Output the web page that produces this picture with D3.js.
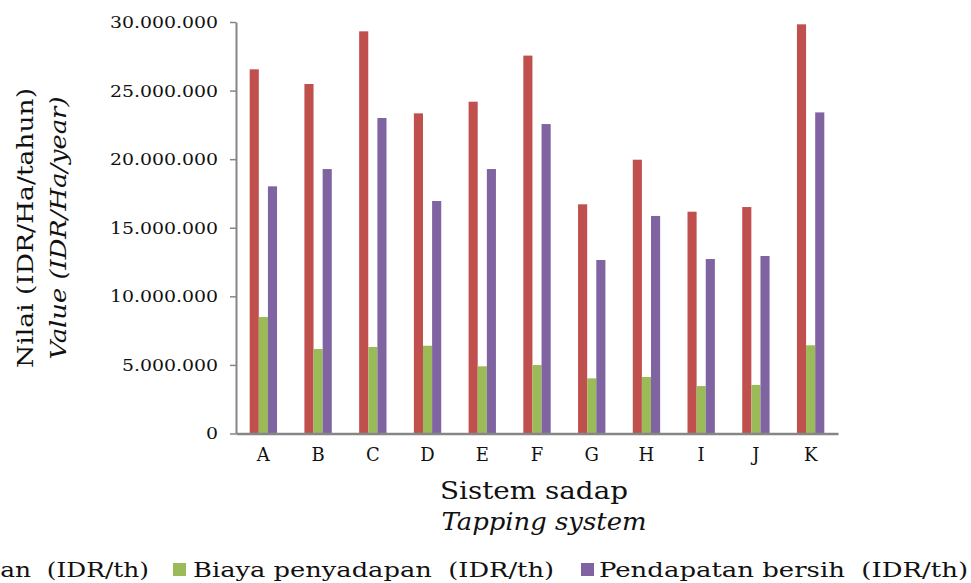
<!DOCTYPE html>
<html>
<head>
<meta charset="utf-8">
<script src="https://cdn.jsdelivr.net/npm/d3@7"></script>
<style>
  body { margin: 0; background: #fff; }
  svg { display: block; font-family: "DejaVu Serif", serif; }
  text { white-space: pre; }
</style>
</head>
<body>
<svg id="chart" width="971" height="583"></svg>
<script>
// tapping systems
var categories = ["A", "B", "C", "D", "E", "F", "G", "H", "I", "J", "K"];

var seriesNames = ["Penerimaan  (IDR/th)", "Biaya penyadapan  (IDR/th)", "Pendapatan bersih  (IDR/th)"];
var seriesColors = ["#C0504D", "#9BBB59", "#8064A2"];

// values (IDR/Ha/year)
var penerimaan = [26550000, 25480000, 29320000, 23340000, 24190000, 27550000, 16710000, 19960000, 16170000, 16510000, 29830000];
var biaya      = [8490000, 6160000, 6310000, 6400000, 4900000, 4990000, 4020000, 4120000, 3460000, 3540000, 6430000];
var bersih     = [18020000, 19280000, 23000000, 16950000, 19280000, 22560000, 12650000, 15860000, 12720000, 12940000, 23410000];

var yTicks = [0, 5000000, 10000000, 15000000, 20000000, 25000000, 30000000];

var svg = d3.select("#chart");
var plotLeft = 236, plotRight = 838, plotTop = 22, plotBottom = 433.5;
var axisColor = "#868686";
var ink = "#111";

// the original font is wider than DejaVu Serif, so stretch text a bit
function stretch(sel, factor) {
  sel.each(function() {
    var w = this.getComputedTextLength();
    d3.select(this).attr("textLength", w * factor).attr("lengthAdjust", "spacingAndGlyphs");
  });
}

var x0 = d3.scaleBand().domain(categories).range([plotLeft, plotRight])
  .paddingInner(0.5).paddingOuter(0.25);
var x1 = d3.scaleBand().domain([0, 1, 2]).range([0, x0.bandwidth()]);
var y = d3.scaleLinear().domain([0, 30000000]).range([plotBottom, plotTop]);

var fmt = function(v) {
  return d3.format(",")(v).replace(/,/g, ".");
};

var rows = categories.map(function(c, i) {
  return { cat: c, vals: [penerimaan[i], biaya[i], bersih[i]] };
});

// bars
svg.append("g").selectAll("g")
  .data(rows)
  .enter().append("g")
  .attr("transform", function(d) { return "translate(" + x0(d.cat) + ",0)"; })
  .selectAll("rect")
  .data(function(d) { return d.vals; })
  .enter().append("rect")
  .attr("x", function(d, i) { return x1(i); })
  .attr("width", x1.bandwidth())
  .attr("y", function(d) { return y(d); })
  .attr("height", function(d) { return plotBottom - y(d); })
  .attr("fill", function(d, i) { return seriesColors[i]; });

// y axis
var yAxis = svg.append("g")
  .attr("transform", "translate(" + plotLeft + ",0)")
  .call(d3.axisLeft(y).tickValues(yTicks).tickFormat(fmt).tickSize(6).tickPadding(12).tickSizeOuter(0));
yAxis.select(".domain").attr("stroke", axisColor).attr("stroke-width", 2);
yAxis.selectAll(".tick line").attr("stroke", axisColor).attr("stroke-width", 1.5);
yAxis.selectAll(".tick text")
  .attr("font-family", "DejaVu Serif")
  .attr("font-size", 17)
  .attr("fill", ink)
  .call(stretch, 1.11);

// x axis
var xAxis = svg.append("g")
  .attr("transform", "translate(0," + plotBottom + ")")
  .call(d3.axisBottom(x0).tickSize(0).tickPadding(15).tickSizeOuter(0));
xAxis.select(".domain").attr("stroke", axisColor).attr("stroke-width", 2.5);
xAxis.selectAll(".tick text")
  .attr("font-family", "DejaVu Serif")
  .attr("font-size", 18)
  .attr("fill", ink);

// axis titles
var yt = svg.append("g").attr("transform", "translate(0,228) rotate(-90)");
yt.append("text").attr("x", 0).attr("y", 33).attr("text-anchor", "middle")
  .attr("font-size", 23).attr("fill", ink)
  .attr("textLength", 280).attr("lengthAdjust", "spacingAndGlyphs")
  .text("Nilai (IDR/Ha/tahun)");
yt.append("text").attr("x", 0).attr("y", 66).attr("text-anchor", "middle")
  .attr("font-size", 23).attr("font-style", "italic").attr("fill", ink)
  .attr("textLength", 263).attr("lengthAdjust", "spacingAndGlyphs")
  .text("Value (IDR/Ha/year)");

svg.append("text").attr("x", 534).attr("y", 499).attr("text-anchor", "middle")
  .attr("font-size", 24).attr("fill", ink)
  .attr("textLength", 188).attr("lengthAdjust", "spacingAndGlyphs")
  .text("Sistem sadap");
svg.append("text").attr("x", 544).attr("y", 530).attr("text-anchor", "middle")
  .attr("font-size", 24).attr("font-style", "italic").attr("fill", ink)
  .attr("textLength", 205).attr("lengthAdjust", "spacingAndGlyphs")
  .text("Tapping system");

// legend (runs off the left edge like the original)
var legendItems = [
  { name: seriesNames[0], color: seriesColors[0], box: -140, tx: 149, anchor: "end", len: 268 },
  { name: seriesNames[1], color: seriesColors[1], box: 173, tx: 193, anchor: "start", len: 361 },
  { name: seriesNames[2], color: seriesColors[2], box: 581, tx: 599, anchor: "start", len: 369 }
];
var lg = svg.append("g");
lg.selectAll("rect").data(legendItems).enter().append("rect")
  .attr("x", function(d) { return d.box; }).attr("y", 563)
  .attr("width", 13).attr("height", 13)
  .attr("fill", function(d) { return d.color; });
lg.selectAll("text").data(legendItems).enter().append("text")
  .attr("x", function(d) { return d.tx; }).attr("y", 577)
  .attr("text-anchor", function(d) { return d.anchor; })
  .attr("font-size", 21).attr("fill", ink)
  .attr("textLength", function(d) { return d.len; })
  .attr("lengthAdjust", "spacingAndGlyphs")
  .text(function(d) { return d.name; });
</script>
</body>
</html>
